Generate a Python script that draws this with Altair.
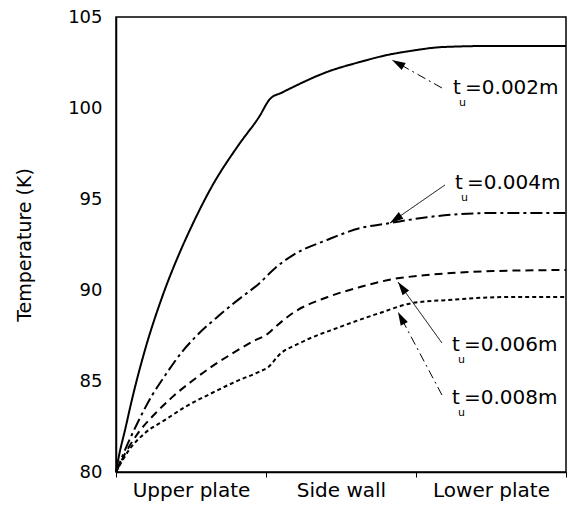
import math
import altair as alt
import pandas as pd

# ---- data ----
series = ["0.002m", "0.004m", "0.006m", "0.008m"]
section_labels = ["Upper plate", "Side wall", "Lower plate"]
y_ticks = [80, 85, 90, 95, 100, 105]

x_002 = [0, 0.02, 0.06, 0.107, 0.193, 0.307, 0.427, 0.487, 0.64, 0.82, 0.953, 1.027, 1.107, 1.18, 1.407, 1.627, 1.807, 1.96, 2.18, 2.513, 3.0]
y_002 = [80.0, 80.9, 82.3, 84.0, 86.7, 89.6, 92.1, 93.2, 95.7, 98.0, 99.5, 100.5, 100.85, 101.15, 101.98, 102.53, 102.91, 103.13, 103.35, 103.41, 103.41]

x_004 = [0, 0.04, 0.153, 0.24, 0.327, 0.44, 0.527, 0.687, 0.82, 0.953, 1.06, 1.18, 1.407, 1.627, 1.827, 2.073, 2.513, 3.0]
y_004 = [80.0, 80.82, 82.86, 84.2, 85.3, 86.6, 87.4, 88.6, 89.5, 90.35, 91.2, 91.92, 92.75, 93.4, 93.68, 94.0, 94.23, 94.23]

x_006 = [0, 0.06, 0.153, 0.26, 0.373, 0.507, 0.64, 0.773, 0.907, 1.02, 1.06, 1.18, 1.407, 1.627, 1.847, 2.073, 2.513, 3.0]
y_006 = [80.0, 81.0, 82.2, 83.2, 84.1, 85.0, 85.8, 86.5, 87.15, 87.65, 87.95, 88.74, 89.6, 90.16, 90.6, 90.82, 91.04, 91.1]

x_008 = [0, 0.087, 0.193, 0.327, 0.46, 0.64, 0.82, 0.953, 1.02, 1.087, 1.227, 1.493, 1.76, 1.98, 2.207, 2.647, 3.0]
y_008 = [80.0, 81.21, 82.14, 82.86, 83.57, 84.34, 85.05, 85.5, 85.8, 86.43, 87.09, 87.97, 88.74, 89.29, 89.45, 89.62, 89.62]

# annotation anchors (data units)
tail_x = [2.173, 2.193, 2.173, 2.173]
tail_y = [101.10, 95.77, 87.09, 84.23]
tip_x = [1.840, 1.827, 1.880, 1.880]
tip_y = [102.64, 93.68, 90.44, 88.79]
lab_x = [2.247, 2.26, 2.24, 2.24]
lab_y = [101.10, 95.88, 86.98, 84.07]
lab_text = ["=0.002m", "=0.004m", "=0.006m", "=0.008m"]

# ---- styling ----
W, H = 450, 455
XDOM, YDOM = [0, 3], [80, 105]
FONT = "DejaVu Sans"
line_dash = [[1, 0], [12, 4, 3, 4], [8, 5], [4, 3]]
arrow_dash = [[9, 4, 2, 4], [1, 0], [1, 0], [9, 4, 2, 4]]

rows = []
for name, xs, ys in zip(series, [x_002, x_004, x_006, x_008], [y_002, y_004, y_006, y_008]):
    for xv, yv in zip(xs, ys):
        rows.append({"series": name, "x": xv, "y": yv})
df = pd.DataFrame(rows)

px_x = W / (XDOM[1] - XDOM[0])
px_y = H / (YDOM[1] - YDOM[0])
angles = []
for tx, ty, hx, hy in zip(tail_x, tail_y, tip_x, tip_y):
    dx = (hx - tx) * px_x
    dy = -(hy - ty) * px_y
    angles.append(math.degrees(math.atan2(dx, -dy)) % 360)

ann = pd.DataFrame({
    "series": series, "tail_x": tail_x, "tail_y": tail_y,
    "tip_x": tip_x, "tip_y": tip_y, "lab_x": lab_x, "lab_y": lab_y,
    "label": lab_text, "angle": angles,
})

label_expr = " : ".join(
    f"datum.value == {i + 0.5} ? '{s}'" for i, s in enumerate(section_labels)
) + " : ''"

xscale = alt.Scale(domain=XDOM, nice=False, zero=False)
yscale = alt.Scale(domain=YDOM, nice=False, zero=False)

lines = alt.Chart(df).mark_line(color="black", strokeWidth=2, interpolate="monotone").encode(
    x=alt.X("x:Q", scale=xscale, title=None, axis=alt.Axis(
        values=[0, 0.5, 1, 1.5, 2, 2.5, 3], labelExpr=label_expr, labelOverlap=False,
        labelFlush=False, labelFont=FONT, labelFontSize=20, labelColor="black",
        labelPadding=3, tickSize=5, tickColor="black",
        tickOpacity={"condition": {"test": "datum.value % 1 === 0", "value": 1}, "value": 0},
        domainColor="black", domainWidth=1.5, grid=False)),
    y=alt.Y("y:Q", scale=yscale, title="Temperature (K)", axis=alt.Axis(
        values=y_ticks, ticks=False, labelPadding=14, labelFont=FONT, labelFontSize=18,
        labelColor="black", titleFont=FONT, titleFontSize=19, titleFontWeight="normal",
        titleColor="black", titlePadding=33, domainColor="black", domainWidth=1.5, grid=False)),
    strokeDash=alt.StrokeDash("series:N", scale=alt.Scale(domain=series, range=line_dash), legend=None),
    detail="series:N",
)

arrows = alt.Chart(ann).mark_rule(color="black", strokeWidth=1).encode(
    x=alt.X("tail_x:Q", scale=xscale), y=alt.Y("tail_y:Q", scale=yscale),
    x2="tip_x:Q", y2="tip_y:Q",
    strokeDash=alt.StrokeDash("series:N", scale=alt.Scale(domain=series, range=arrow_dash), legend=None),
)

head_path = "M0,0L0.6,2L-0.6,2Z"
heads = alt.Chart(ann).mark_point(shape=head_path, filled=True, color="black", opacity=1, size=180, strokeWidth=0).encode(
    x=alt.X("tip_x:Q", scale=xscale), y=alt.Y("tip_y:Q", scale=yscale),
    angle=alt.Angle("angle:Q", scale=None),
)

t_text = alt.Chart(ann).mark_text(align="left", baseline="middle", font=FONT, fontSize=20, color="black", text="t").encode(
    x=alt.X("lab_x:Q", scale=xscale), y=alt.Y("lab_y:Q", scale=yscale))
u_text = alt.Chart(ann).mark_text(align="left", baseline="middle", font=FONT, fontSize=11, color="black", text="u", dx=6, dy=15).encode(
    x=alt.X("lab_x:Q", scale=xscale), y=alt.Y("lab_y:Q", scale=yscale))
v_text = alt.Chart(ann).mark_text(align="left", baseline="middle", font=FONT, fontSize=20, color="black", dx=12).encode(
    x=alt.X("lab_x:Q", scale=xscale), y=alt.Y("lab_y:Q", scale=yscale), text="label:N")

chart = alt.layer(lines, arrows, heads, t_text, u_text, v_text).resolve_scale(
    strokeDash="independent"
).properties(
    width=W, height=H,
    autosize=alt.AutoSizeParams(type="none"),
    padding={"left": 116, "top": 17, "right": 7, "bottom": 38},
    background="white",
).configure_view(stroke="black", strokeWidth=1.5)

chart.save("out.html", embed_options={"renderer": "svg", "actions": False})
